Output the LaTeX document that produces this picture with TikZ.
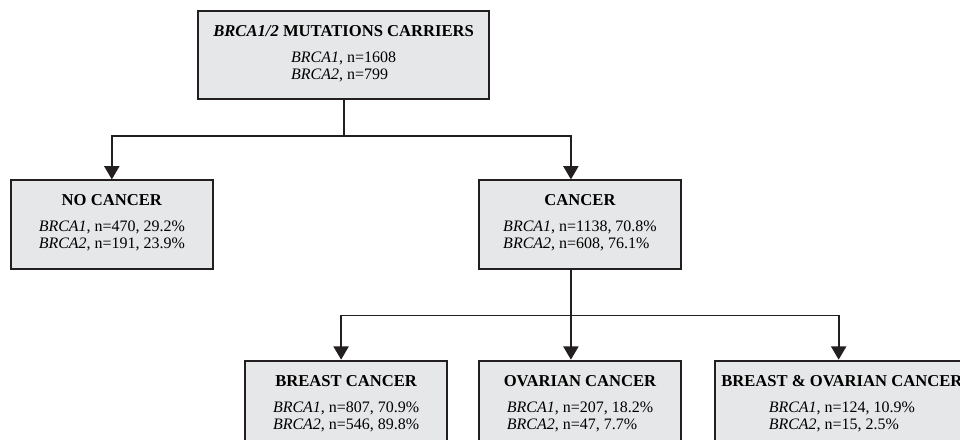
\documentclass[tikz,border=0pt]{standalone}
\usepackage{fontspec}
\setmainfont{Liberation Serif}
\usetikzlibrary{arrows.meta, positioning}

\definecolor{boxfill}{RGB}{230,231,232}
\definecolor{boxline}{RGB}{35,31,32}

\newcommand{\grouphead}[1]{{\fontsize{10.4}{10.5}\selectfont\bfseries #1}}
\newcommand{\brcacounts}[2]{\begin{tabular}[t]{@{}l@{}}\textit{BRCA1}, n=#1\\\textit{BRCA2}, n=#2\end{tabular}}

\begin{document}
\begin{tikzpicture}[
    group/.style={rectangle, draw=boxline, fill=boxfill, line width=1.3pt, minimum width=4.44cm, minimum height=1.94cm, inner sep=0pt, align=center, font=\fontsize{10}{10.7}\selectfont},
    arrow/.style={-{Triangle[length=0.29cm, width=0.33cm]}, line width=1.1pt, draw=boxline}
]
\useasboundingbox (0,0) rectangle (21.12,-9.68);
\clip (0,0) rectangle (21.12,-9.68);

% Groups
\node[group, minimum width=6.40cm] (carriers) at (7.56,-1.21) {\grouphead{\textit{BRCA1/2} MUTATIONS CARRIERS}\\[5.5pt]\brcacounts{1608}{799}};
\node[group] (nocancer) at (2.46,-4.94) {\grouphead{NO CANCER}\\[5.5pt]\brcacounts{470, 29.2\%}{191, 23.9\%}};
\node[group] (cancer) at (12.76,-4.94) {\grouphead{CANCER}\\[5.5pt]\brcacounts{1138, 70.8\%}{608, 76.1\%}};

\node[group, below=1.98cm of cancer] (ovarian) {\grouphead{OVARIAN CANCER}\\[5.5pt]\brcacounts{207, 18.2\%}{47, 7.7\%}};
\node[group, left=0.66cm of ovarian] (breast) {\grouphead{BREAST CANCER}\\[5.5pt]\brcacounts{807, 70.9\%}{546, 89.8\%}};
\node[group, minimum width=5.59cm, right=0.70cm of ovarian] (both) {\grouphead{BREAST \& OVARIAN CANCER}\\[5.5pt]\brcacounts{124, 10.9\%}{15, 2.5\%}};

% Carriers split
\draw[arrow] (carriers.south) -- ++(0,-0.79) -| (nocancer.north);
\draw[arrow] (carriers.south) -- ++(0,-0.79) -| ([xshift=-0.2cm]cancer.north);

% Cancer split
\draw[arrow] ([xshift=-0.2cm]cancer.south) -- ([xshift=-0.2cm]ovarian.north);
\draw[arrow] ([xshift=-0.2cm]cancer.south) -- ++(0,-1.01) -| ([xshift=-0.11cm]breast.north);
\draw[arrow] ([xshift=-0.2cm]cancer.south) -- ++(0,-1.01) -| ([xshift=-0.07cm]both.north);

\end{tikzpicture}
\end{document}
